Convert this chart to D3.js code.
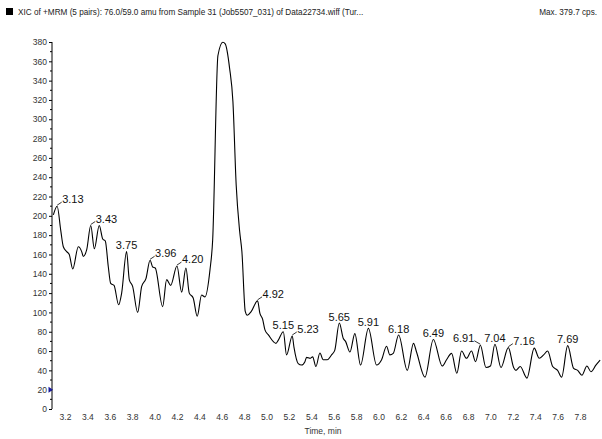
<!DOCTYPE html>
<html>
<head>
<meta charset="utf-8">
<script src="https://cdn.jsdelivr.net/npm/d3@7"></script>
<style>
  html, body { margin: 0; padding: 0; background: #fff; }
  svg { display: block; font-family: "Liberation Sans", Arial, sans-serif; }
</style>
</head>
<body>
<svg id="chart" width="602" height="439"></svg>
<script>
// XIC trace, 76.0/59.0 amu: retention time (min) and intensity (cps)
const times = [
  3.096, 3.13, 3.162, 3.185, 3.215, 3.238, 3.269, 3.319, 3.349, 3.363, 3.394, 3.43,
  3.462, 3.506, 3.537, 3.56, 3.587, 3.608, 3.638, 3.679, 3.706, 3.75, 3.774, 3.804,
  3.849, 3.885, 3.923, 3.96, 3.983, 4.006, 4.072, 4.108, 4.144, 4.20, 4.242, 4.28,
  4.31, 4.345, 4.381, 4.42, 4.45, 4.495, 4.519, 4.566, 4.61, 4.631, 4.67, 4.70,
  4.729, 4.76, 4.78, 4.81, 4.828, 4.864, 4.92, 4.941, 4.965, 4.986, 5.015, 5.084,
  5.104, 5.15, 5.179, 5.23, 5.245, 5.283, 5.313, 5.343, 5.358, 5.388, 5.412, 5.441,
  5.477, 5.506, 5.542, 5.581, 5.61, 5.65, 5.686, 5.706, 5.745, 5.789, 5.84, 5.91,
  5.983, 6.028, 6.072, 6.102, 6.132, 6.18, 6.257, 6.313, 6.34, 6.415, 6.49, 6.569,
  6.608, 6.653, 6.70, 6.742, 6.786, 6.831, 6.867, 6.91, 6.96, 7.0, 7.04, 7.094,
  7.16, 7.207, 7.228, 7.266, 7.326, 7.391, 7.436, 7.475, 7.511, 7.556, 7.60, 7.636,
  7.69, 7.743, 7.779, 7.817, 7.862, 7.898, 7.942, 7.98
];
const intensity = [
  201, 210, 185, 168, 163, 160, 145, 168, 163, 158, 165, 190,
  166, 190, 176, 174, 147, 130, 128, 108, 120, 163, 134, 127,
  100, 127, 135, 154, 147, 146, 106, 134, 128, 148, 121, 146,
  120, 115, 96, 118, 116, 144, 175, 366, 379.7, 378, 353, 318,
  232, 184, 163, 101, 97, 101, 112, 99, 93, 82, 77, 68,
  71, 80, 56, 75.6, 64, 47, 45.5, 49, 53.5, 52.5, 54, 44,
  58, 51, 51, 56, 61, 89, 73, 70, 59, 78, 45.5, 83.5,
  45.5, 51, 65, 56, 57.6, 76.6, 40, 68, 59, 33, 72, 44.5,
  51, 57.6, 37, 60, 52.5, 60, 49, 66, 43, 44.5, 67, 43,
  63.5, 43, 40, 44, 32, 63, 52.5, 56, 60, 44, 40, 33,
  65.6, 42, 40, 35, 44.5, 38.6, 45.5, 50.7
];

// Apex retention times annotated on the trace
const peakTimes = [3.13, 3.43, 3.75, 3.96, 4.20, 4.92, 5.15, 5.23, 5.65, 5.91, 6.18, 6.49, 6.91, 7.04, 7.16, 7.69];

// Axis ticks
const xTicks = [3.2, 3.4, 3.6, 3.8, 4.0, 4.2, 4.4, 4.6, 4.8, 5.0, 5.2, 5.4, 5.6, 5.8, 6.0, 6.2, 6.4, 6.6, 6.8, 7.0, 7.2, 7.4, 7.6, 7.8];
const yTicks = [0, 20, 40, 60, 80, 100, 120, 140, 160, 180, 200, 220, 240, 260, 280, 300, 320, 340, 360, 380];
const yMinorTicks = d3.range(10, 380, 20);

const titleText = "XIC of +MRM (5 pairs): 76.0/59.0 amu from Sample 31 (Job5507_031) of Data22734.wiff (Tur...";
const maxText = "Max. 379.7 cps.";
const xTitle = "Time, min";
const thresholdLevel = 20;

const points = times.map((t, i) => ({ t, v: intensity[i] }));

const svg = d3.select("#chart");

const x = d3.scaleLinear().domain([3.2, 7.8]).range([65, 580]);
const y = d3.scaleLinear().domain([0, 380]).range([409, 42]);

// Header
svg.append("rect").attr("x", 6).attr("y", 8).attr("width", 7).attr("height", 7).attr("fill", "#000");
svg.append("text").attr("x", 18).attr("y", 15).attr("font-size", 8.2).attr("fill", "#222").text(titleText);
svg.append("text").attr("x", 597).attr("y", 15).attr("font-size", 8.2).attr("fill", "#222")
  .attr("text-anchor", "end").text(maxText);

// Y axis: major ticks with labels, minor ticks between
const yAxis = d3.axisLeft(y).tickValues(yTicks).tickSize(3).tickPadding(2).tickFormat(d3.format("d"));
const gy = svg.append("g").attr("transform", "translate(52,0)").call(yAxis);
gy.select(".domain").attr("stroke", "#000").attr("d", `M0,${y(380)}V${y(0)}`);
gy.selectAll(".tick line").attr("stroke", "#000");
gy.selectAll(".tick text").attr("font-size", 8.5).attr("fill", "#333")
  .attr("font-family", "Liberation Sans, Arial, sans-serif");
gy.selectAll(".minor").data(yMinorTicks).enter().append("line")
  .attr("class", "minor").attr("x1", -2).attr("x2", 0)
  .attr("y1", d => y(d)).attr("y2", d => y(d)).attr("stroke", "#000");

// X axis: labels only
const xAxis = d3.axisBottom(x).tickValues(xTicks).tickSize(0).tickPadding(0).tickFormat(d3.format(".1f"));
const gx = svg.append("g").attr("transform", "translate(0,414)").call(xAxis);
gx.select(".domain").remove();
gx.selectAll(".tick text").attr("font-size", 8.5).attr("fill", "#333")
  .attr("font-family", "Liberation Sans, Arial, sans-serif");

svg.append("text").attr("x", 323).attr("y", 434).attr("text-anchor", "middle")
  .attr("font-size", 8.5).attr("fill", "#333").text(xTitle);

// Threshold marker on the y axis
const ty = y(thresholdLevel);
svg.append("path").attr("d", `M48.5,${ty - 3}L53,${ty}L48.5,${ty + 3}Z`).attr("fill", "#1c1c9c");

// Trace
const line = d3.line().x(d => x(d.t)).y(d => y(d.v)).curve(d3.curveMonotoneX);
svg.append("path").datum(points).attr("d", line)
  .attr("fill", "none").attr("stroke", "#000").attr("stroke-width", 1.1);

// Peak annotations: centred above the apex, or offset with a short leader
const rightSide = new Set([3.13, 3.43, 3.96, 4.20, 4.92, 5.23, 7.16]);
const leftSide = new Set([6.91]);
const labels = svg.append("g").attr("font-size", 11).attr("fill", "#111");
peakTimes.forEach(t => {
  const p = points.find(d => Math.abs(d.t - t) < 1e-6);
  const px = x(p.t), py = y(p.v);
  const txt = t.toFixed(2);
  if (rightSide.has(t)) {
    labels.append("line").attr("x1", px).attr("y1", py - 1).attr("x2", px + 4.5).attr("y2", py - 4)
      .attr("stroke", "#000").attr("stroke-width", 0.8);
    labels.append("text").attr("x", px + 5).attr("y", py - 3).text(txt);
  } else if (leftSide.has(t)) {
    labels.append("line").attr("x1", px).attr("y1", py - 1).attr("x2", px - 6).attr("y2", py - 4.5)
      .attr("stroke", "#000").attr("stroke-width", 0.8);
    labels.append("text").attr("x", px - 6).attr("y", py - 3).attr("text-anchor", "end").text(txt);
  } else {
    labels.append("text").attr("x", px).attr("y", py - 2.5).attr("text-anchor", "middle").text(txt);
  }
});
</script>
</body>
</html>
